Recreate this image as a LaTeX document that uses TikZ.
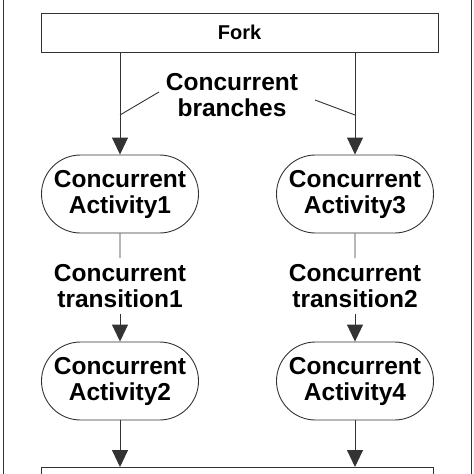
\documentclass[tikz,border=0pt]{standalone}
\usepackage{fontspec}
\setmainfont{Liberation Sans}
\usetikzlibrary{arrows.meta,shapes.misc}
\begin{document}
\begin{tikzpicture}[x=1pt,y=-1pt,
  lbl/.style={font=\bfseries\fontsize{24.5}{26}\selectfont,align=center,inner sep=0},
  act/.style={draw=black!80,line width=0.9pt,rounded rectangle,minimum width=157pt,minimum height=78pt,lbl},
  box/.style={draw=black!80,line width=0.9pt},
  ln/.style={draw=black!80,line width=0.9pt},
  arr/.style={ln,-{Triangle[width=16pt,length=17pt]}}]
\useasboundingbox (0,0) rectangle (474,474);
\draw[ln] (3,0) -- (3,474) (471,0) -- (471,474);
\node[box,minimum width=397pt,minimum height=39pt,font=\bfseries\fontsize{20}{22}\selectfont] (fork) at (239.5,32.5) {Fork};
\draw[box] (41,474) |- (433,467) -- (433,474);
\node[lbl] (cb) at (232,95) {Concurrent\\branches};
\node[act] (a1) at (120,194) {Concurrent\\Activity1};
\node[act] (a3) at (355,194) {Concurrent\\Activity3};
\node[act] (a2) at (120,381) {Concurrent\\Activity2};
\node[act] (a4) at (355,381) {Concurrent\\Activity4};
\node[lbl,inner sep=6pt] (t1) at (120,286) {Concurrent\\transition1};
\node[lbl,inner sep=6pt] (t2) at (355,286) {Concurrent\\transition2};
\coordinate (f1) at (120,52);
\coordinate (f2) at (355,52);
\draw[arr] (f1) -- (a1);
\draw[arr] (f2) -- (a3);
\draw[ln] (a1) -- (t1);
\draw[ln] (a3) -- (t2);
\draw[arr] (t1) -- (a2);
\draw[arr] (t2) -- (a4);
\coordinate (j1) at (120,467);
\coordinate (j2) at (355,467);
\draw[arr] (a2) -- (j1);
\draw[arr] (a4) -- (j2);
\coordinate (c1) at (159,92);
\coordinate (c2) at (120,115);
\coordinate (c3) at (315,100);
\coordinate (c4) at (355,115);
\draw[ln] (c1) -- (c2);
\draw[ln] (c3) -- (c4);
\end{tikzpicture}
\end{document}
